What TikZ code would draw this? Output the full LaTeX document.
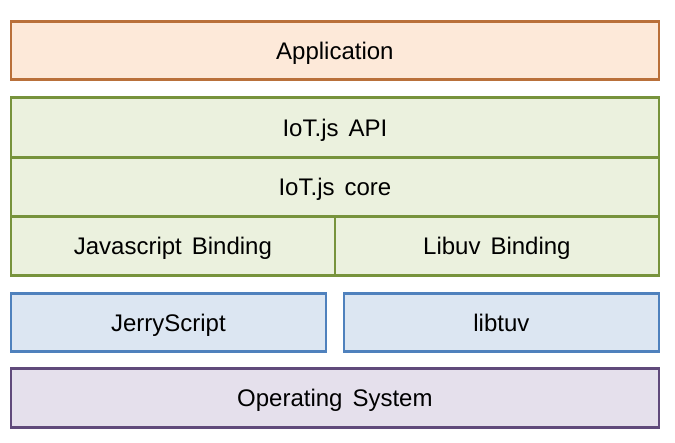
\documentclass[tikz,border=0pt]{standalone}
\usepackage{fontspec}
\setmainfont{Liberation Sans}[WordSpace=1.5]
\usepackage{tikz}

\definecolor{appline}{HTML}{B9703A}
\definecolor{appfill}{HTML}{FDE9D9}
\definecolor{iotline}{HTML}{77933C}
\definecolor{iotfill}{HTML}{EBF1DE}
\definecolor{libline}{HTML}{4F81BD}
\definecolor{libfill}{HTML}{DCE6F2}
\definecolor{osline}{HTML}{604A7B}
\definecolor{osfill}{HTML}{E5E0EC}

\begin{document}
\begin{tikzpicture}[x=1pt, y=-1pt,
    every node/.style={font=\fontsize{24}{28}\selectfont},
    layer/.style={draw, line width=2.8pt, rectangle, inner sep=0pt, anchor=north west,
        text height=17pt, text depth=0pt},
    app/.style={layer, draw=appline, fill=appfill},
    iot/.style={layer, draw=iotline, fill=iotfill},
    lib/.style={layer, draw=libline, fill=libfill},
    os/.style={layer, draw=osline, fill=osfill}]
    \useasboundingbox (0,0) rectangle (675,443);

    % aplicação
    \node[app, minimum width=648pt, minimum height=58pt] (app) at (9.5,20.5) {Application};

    % camada IoT.js
    \node[iot, minimum width=648pt, minimum height=59.5pt] (api) at (9.5,96.5) {IoT.js API};
    \node[iot, minimum width=648pt, minimum height=59.5pt] (core) at (9.5,156) {IoT.js core};
    \node[iot, minimum width=324pt, minimum height=59pt] (jsbind) at (9.5,215.5) {Javascript Binding};
    \node[iot, minimum width=324pt, minimum height=59pt] (uvbind) at (333.5,215.5) {Libuv Binding};

    % bibliotecas
    \node[lib, minimum width=315pt, minimum height=58pt] (jerry) at (9.5,292.5) {JerryScript};
    \node[lib, minimum width=315pt, minimum height=58pt] (libtuv) at (342.5,292.5) {libtuv};

    % sistema operacional
    \node[os, minimum width=648pt, minimum height=59pt] (os) at (9.5,367.5) {Operating System};

\end{tikzpicture}
\end{document}
